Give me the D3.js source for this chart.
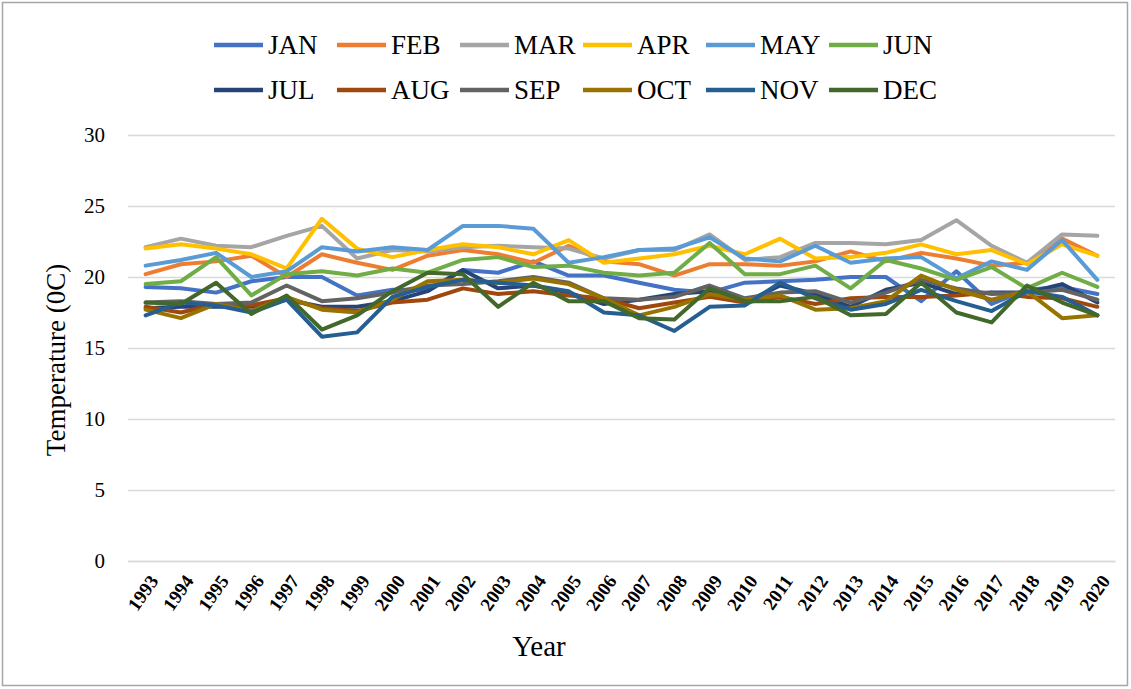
<!DOCTYPE html>
<html>
<head>
<meta charset="utf-8">
<script src="https://cdn.jsdelivr.net/npm/d3@7"></script>
<style>
  html, body { margin: 0; padding: 0; background: #fff; }
  svg { display: block; }
</style>
</head>
<body>
<svg id="chart" width="1131" height="689"></svg>
<script>
const years = ["1993","1994","1995","1996","1997","1998","1999","2000","2001","2002","2003","2004","2005","2006","2007","2008","2009","2010","2011","2012","2013","2014","2015","2016","2017","2018","2019","2020"];
const yTicks = [0, 5, 10, 15, 20, 25, 30];
const months = ["JAN","FEB","MAR","APR","MAY","JUN","JUL","AUG","SEP","OCT","NOV","DEC"];
const colors = ["#4472C4","#ED7D31","#A5A5A5","#FFC000","#5B9BD5","#70AD47","#264478","#9E480E","#636363","#997300","#255E91","#43682B"];

const JAN = [19.3,19.2,18.9,19.7,20.0,20.0,18.7,19.1,19.1,20.5,20.3,21.1,20.1,20.1,19.6,19.1,18.9,19.6,19.7,19.8,20.0,20.0,18.3,20.4,18.1,19.1,19.3,18.8];
const FEB = [20.2,20.9,21.1,21.5,20.0,21.6,21.0,20.5,21.5,21.9,21.6,21.0,22.2,21.1,20.9,20.1,20.9,20.9,20.8,21.1,21.8,21.1,21.7,21.3,20.8,21.0,22.7,21.5];
const MAR = [22.1,22.7,22.2,22.1,22.9,23.6,21.3,21.9,21.8,22.1,22.2,22.1,22.0,21.3,21.9,21.9,23.0,21.2,21.4,22.4,22.4,22.3,22.6,24.0,22.2,21.0,23.0,22.9];
const APR = [22.0,22.3,22.0,21.6,20.6,24.1,22.0,21.4,21.9,22.3,22.1,21.6,22.6,21.0,21.3,21.6,22.2,21.6,22.7,21.3,21.4,21.7,22.3,21.6,21.9,20.9,22.3,21.5];
const MAY = [20.8,21.2,21.7,20.0,20.4,22.1,21.8,22.1,21.9,23.6,23.6,23.4,21.0,21.4,21.9,22.0,22.8,21.3,21.1,22.2,21.0,21.3,21.4,19.9,21.1,20.5,22.6,19.8];
const JUN = [19.5,19.7,21.4,18.7,20.2,20.4,20.1,20.6,20.3,21.2,21.4,20.7,20.8,20.3,20.1,20.3,22.4,20.2,20.2,20.8,19.2,21.2,20.6,19.8,20.7,19.2,20.3,19.3];
const JUL = [17.8,17.9,17.9,17.9,18.4,17.9,17.9,18.3,19.0,20.5,19.2,19.4,18.9,18.1,18.4,18.8,19.0,18.2,19.4,18.8,17.9,19.1,19.6,18.8,18.9,18.9,19.5,18.2];
const AUG = [17.9,17.5,18.1,18.0,18.5,17.8,17.6,18.2,18.4,19.2,18.8,19.0,18.7,18.5,17.8,18.2,18.6,18.2,18.6,18.1,18.5,18.6,18.6,18.7,18.9,18.6,18.5,17.9];
const SEP = [18.2,18.3,18.1,18.2,19.4,18.3,18.5,18.9,19.4,19.5,19.7,20.0,19.6,18.5,18.4,18.6,19.4,18.5,18.9,19.0,18.2,18.9,19.8,19.2,18.8,18.9,19.1,18.4];
const OCT = [17.7,17.1,18.1,17.6,18.6,17.7,17.5,18.4,19.7,19.8,19.6,19.9,19.5,18.5,17.3,17.9,18.8,18.4,18.7,17.7,17.8,18.3,20.1,19.1,18.4,19.0,17.1,17.3];
const NOV = [17.3,18.2,18.0,17.5,18.4,15.8,16.1,18.6,19.3,19.8,19.6,19.4,19.0,17.5,17.3,16.2,17.9,18.0,19.6,18.5,17.7,18.1,19.1,18.3,17.6,19.0,18.6,17.3];
const DEC = [18.2,18.1,19.6,17.4,18.7,16.3,17.3,19.0,20.3,20.2,17.9,19.6,18.3,18.3,17.1,17.0,19.2,18.3,18.3,18.6,17.3,17.4,19.6,17.5,16.8,19.4,18.2,17.3];

const seriesValues = [JAN,FEB,MAR,APR,MAY,JUN,JUL,AUG,SEP,OCT,NOV,DEC];

const svg = d3.select("#chart");
const font = "'Liberation Serif', 'Times New Roman', serif";

// outer frame
svg.append("rect").attr("x", 2.5).attr("y", 2.5).attr("width", 1125).attr("height", 683)
  .attr("fill", "#fff").attr("stroke", "#A6A6A6").attr("stroke-width", 1.5);

const pLeft = 128, pRight = 1115, pTop = 135, pBottom = 561;
const x = d3.scalePoint().domain(years).range([pLeft, pRight]).padding(0.5);
const y = d3.scaleLinear().domain([0, 30]).range([pBottom, pTop]);

// gridlines + y labels
const yAxis = d3.axisLeft(y).tickValues(yTicks).tickSize(-(pRight - pLeft)).tickPadding(23);
const gy = svg.append("g").attr("transform", `translate(${pLeft},0)`).call(yAxis);
gy.select(".domain").remove();
gy.selectAll(".tick line").attr("stroke", "#D9D9D9").attr("stroke-width", 1.3);
gy.selectAll(".tick text").attr("font-family", font).attr("font-size", 21).attr("fill", "#000");

// x axis
const xAxis = d3.axisBottom(x).tickSize(0).tickPadding(0);
const gx = svg.append("g").attr("transform", `translate(0,${pBottom})`).call(xAxis);
gx.select(".domain").attr("stroke", "#D9D9D9").attr("stroke-width", 1.3);
gx.selectAll(".tick text")
  .attr("font-family", font).attr("font-size", 19).attr("font-weight", "bold").attr("fill", "#000")
  .attr("text-anchor", "end").attr("dy", null).attr("y", 0)
  .attr("transform", "translate(13,20) rotate(-55)");

// lines
const line = d3.line().x((d, i) => x(years[i])).y(d => y(d));
const gl = svg.append("g");
seriesValues.forEach((vals, k) => {
  gl.append("path").datum(vals).attr("d", line)
    .attr("fill", "none").attr("stroke", colors[k]).attr("stroke-width", 4)
    .attr("stroke-linejoin", "round").attr("stroke-linecap", "round");
});

// legend
const lg = svg.append("g");
months.forEach((m, k) => {
  const col = k % 6, row = Math.floor(k / 6);
  const lx = 214 + col * 123, ly = 45 + row * 45;
  lg.append("line").attr("x1", lx).attr("x2", lx + 49).attr("y1", ly).attr("y2", ly)
    .attr("stroke", colors[k]).attr("stroke-width", 4.5);
  lg.append("text").attr("x", lx + 54).attr("y", ly).attr("dy", "0.35em")
    .attr("font-family", font).attr("font-size", 27).attr("fill", "#000").text(m);
});

// axis titles
svg.append("text").attr("transform", `translate(65,${(pTop + pBottom) / 2 + 12}) rotate(-90)`)
  .attr("text-anchor", "middle").attr("font-family", font).attr("font-size", 27).attr("fill", "#000")
  .text("Temperature (0C)");
svg.append("text").attr("x", 539).attr("y", 656).attr("text-anchor", "middle")
  .attr("font-family", font).attr("font-size", 29).attr("fill", "#000").text("Year");
</script>
</body>
</html>
